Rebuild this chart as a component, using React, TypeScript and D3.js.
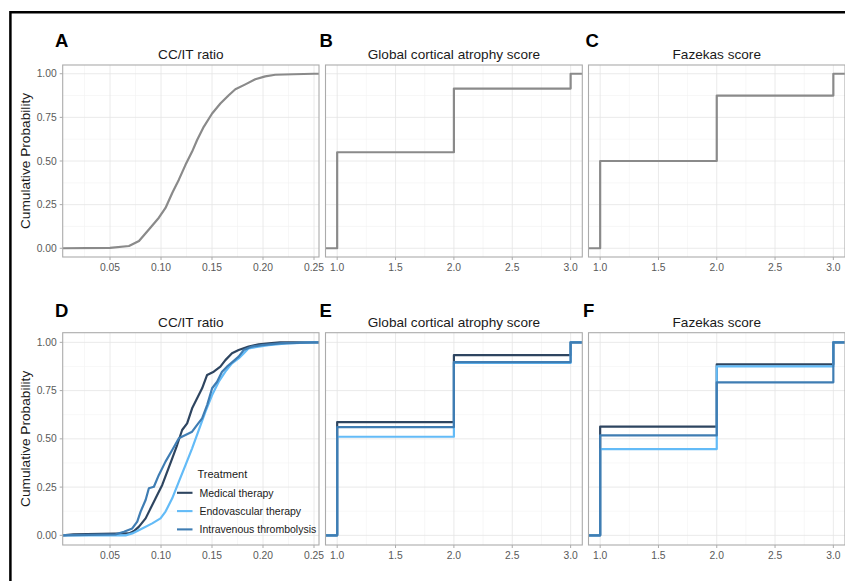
import React from 'react';
import * as d3 from 'd3';

const W = 845;
const H = 581;

// ---- legend / series ----
const treatments = ['Medical therapy', 'Endovascular therapy', 'Intravenous thrombolysis'];
const treatmentColors = ['#2E4560', '#63BBF7', '#3F7DB3'];
const overallColor = '#8A8A8A';

// ---- ticks ----
const ccitTicks = [0.05, 0.1, 0.15, 0.2, 0.25];
const ccitMinor = [0.025, 0.075, 0.125, 0.175, 0.225];
const scoreTicks = [1.0, 1.5, 2.0, 2.5, 3.0];
const scoreMinor = [1.25, 1.75, 2.25, 2.75];
const probTicks = [0, 0.25, 0.5, 0.75, 1];
const probMinor = [0.125, 0.375, 0.625, 0.875];

// ---- CC/IT ratio ECDF ----
const ccitAllX = [0.05, 0.0686, 0.0784, 0.0881, 0.0979, 0.1044, 0.111, 0.1175, 0.124, 0.1305, 0.1354, 0.1419, 0.1501, 0.1582, 0.1664, 0.1729, 0.1827, 0.1924, 0.2022, 0.212, 0.23, 0.25];
const ccitAllY = [0.002, 0.013, 0.042, 0.108, 0.175, 0.231, 0.317, 0.393, 0.478, 0.554, 0.62, 0.696, 0.772, 0.829, 0.877, 0.911, 0.939, 0.968, 0.985, 0.994, 0.997, 1.0];

const ccitMedX = [0.014, 0.0686, 0.0735, 0.0784, 0.0849, 0.0898, 0.0947, 0.1012, 0.1061, 0.111, 0.1158, 0.1207, 0.1256, 0.1305, 0.1354, 0.1403, 0.1452, 0.1517, 0.1582, 0.1631, 0.1696, 0.1761, 0.1859, 0.1957, 0.2055, 0.2169];
const ccitMedY = [0.005, 0.01, 0.022, 0.045, 0.088, 0.14, 0.192, 0.261, 0.33, 0.399, 0.468, 0.546, 0.58, 0.658, 0.71, 0.762, 0.831, 0.848, 0.874, 0.908, 0.943, 0.96, 0.978, 0.99, 0.995, 1.0];

const ccitEndoX = [0.0653, 0.0718, 0.0816, 0.0914, 0.0995, 0.1044, 0.111, 0.1175, 0.124, 0.1305, 0.1371, 0.1436, 0.1501, 0.1566, 0.1631, 0.1696, 0.1761, 0.181, 0.1859, 0.1957, 0.2055, 0.2232, 0.2493];
const ccitEndoY = [0.0, 0.01, 0.036, 0.062, 0.088, 0.123, 0.192, 0.278, 0.364, 0.451, 0.546, 0.641, 0.727, 0.796, 0.848, 0.891, 0.917, 0.943, 0.969, 0.978, 0.986, 0.995, 1.0];

const ccitIvtX = [0.0555, 0.0637, 0.0718, 0.0767, 0.08, 0.0849, 0.0881, 0.093, 0.0979, 0.1044, 0.111, 0.1175, 0.124, 0.1305, 0.1354, 0.1403, 0.1452, 0.1501, 0.155, 0.1598, 0.1647, 0.1696, 0.1761, 0.181, 0.1892, 0.1989, 0.2169, 0.25];
const ccitIvtY = [0.005, 0.019, 0.036, 0.071, 0.123, 0.183, 0.244, 0.252, 0.313, 0.382, 0.442, 0.503, 0.52, 0.537, 0.572, 0.606, 0.675, 0.762, 0.796, 0.848, 0.874, 0.896, 0.926, 0.96, 0.978, 0.986, 0.995, 1.0];

// ---- score ECDFs (levels 1, 2, 3) ----
const scoreLevels = [1, 2, 3];
const gcaAll = [0.55, 0.915, 1.0];
const fazAll = [0.5, 0.875, 1.0];
const gcaMed = [0.587, 0.934, 1.0];
const gcaEndo = [0.511, 0.893, 1.0];
const gcaIvt = [0.561, 0.898, 1.0];
const fazMed = [0.563, 0.886, 1.0];
const fazEndo = [0.447, 0.876, 1.0];
const fazIvt = [0.518, 0.793, 1.0];

type Series = { kind: 'curve' | 'step'; xs: number[]; ys: number[]; color: string };

const ccitDomain: [number, number] = [0.0036, 0.2549];
const scoreDomain: [number, number] = [0.9, 3.1];
const probDomain: [number, number] = [-0.05, 1.05];

const cols = [
  { left: 62.7, right: 319 },
  { left: 325.5, right: 582.3 },
  { left: 588.5, right: 845 },
];
const rows = [
  { top: 65, bottom: 257, labelY: 46.7, titleY: 59 },
  { top: 332.7, bottom: 545, labelY: 316.7, titleY: 327.3 },
];

const FONT = '"Liberation Sans", Arial, Helvetica, sans-serif';

function Panel(props: {
  col: number; row: number; label: string; labelX: number; title: string;
  isCcit: boolean; series: Series[]; showY: boolean;
}) {
  const { col, row, label, labelX, title, isCcit, series, showY } = props;
  const c = cols[col];
  const r = rows[row];
  const x = d3.scaleLinear().domain(isCcit ? ccitDomain : scoreDomain).range([c.left, c.right]);
  const y = d3.scaleLinear().domain(probDomain).range([r.bottom, r.top]);
  const majors = isCcit ? ccitTicks : scoreTicks;
  const minors = isCcit ? ccitMinor : scoreMinor;
  const fmtX = d3.format(isCcit ? '.2f' : '.1f');
  const fmtY = d3.format('.2f');
  const [x0, x1] = x.domain();

  const lineLin = d3.line<[number, number]>().x(d => x(d[0])).y(d => y(d[1])).curve(d3.curveLinear);
  const lineStep = d3.line<[number, number]>().x(d => x(d[0])).y(d => y(d[1])).curve(d3.curveStepAfter);

  const paths = series.map((s, i) => {
    const pts: [number, number][] = [[x0, 0], ...s.xs.map((v, k) => [v, s.ys[k]] as [number, number]), [x1, 1]];
    const gen = s.kind === 'curve' ? lineLin : lineStep;
    return <path key={i} d={gen(pts) || ''} fill="none" stroke={s.color} strokeWidth={2.2} strokeLinejoin="round" />;
  });

  const clipId = `clip-${row}-${col}`;
  return (
    <g>
      <defs>
        <clipPath id={clipId}>
          <rect x={c.left} y={r.top} width={c.right - c.left} height={r.bottom - r.top} />
        </clipPath>
      </defs>
      {minors.map(v => (
        <line key={'mx' + v} x1={x(v)} x2={x(v)} y1={r.top} y2={r.bottom} stroke="#F1F1F1" strokeWidth={0.6} />
      ))}
      {probMinor.map(v => (
        <line key={'my' + v} x1={c.left} x2={c.right} y1={y(v)} y2={y(v)} stroke="#F1F1F1" strokeWidth={0.6} />
      ))}
      {majors.map(v => (
        <line key={'gx' + v} x1={x(v)} x2={x(v)} y1={r.top} y2={r.bottom} stroke="#E4E4E4" strokeWidth={0.8} />
      ))}
      {probTicks.map(v => (
        <line key={'gy' + v} x1={c.left} x2={c.right} y1={y(v)} y2={y(v)} stroke="#E4E4E4" strokeWidth={0.8} />
      ))}
      <g clipPath={`url(#${clipId})`}>{paths}</g>
      <rect x={c.left} y={r.top} width={c.right - c.left} height={r.bottom - r.top} fill="none" stroke="#ABABAB" strokeWidth={1.1} />
      {majors.map(v => (
        <g key={'tx' + v}>
          <line x1={x(v)} x2={x(v)} y1={r.bottom} y2={r.bottom + 3} stroke="#ABABAB" strokeWidth={1} />
          <text x={x(v)} y={r.bottom + 14} textAnchor="middle" fontFamily={FONT} fontSize={10.3} fill="#595959">{fmtX(v)}</text>
        </g>
      ))}
      {showY && probTicks.map(v => (
        <g key={'ty' + v}>
          <line x1={c.left - 3} x2={c.left} y1={y(v)} y2={y(v)} stroke="#ABABAB" strokeWidth={1} />
          <text x={c.left - 6} y={y(v) + 3.6} textAnchor="end" fontFamily={FONT} fontSize={10.3} fill="#595959">{fmtY(v)}</text>
        </g>
      ))}
      {showY && (
        <text transform={`translate(30,${(r.top + r.bottom) / 2}) rotate(-90)`} textAnchor="middle" fontFamily={FONT} fontSize={13.7} fill="#1A1A1A">Cumulative Probability</text>
      )}
      <text x={(c.left + c.right) / 2} y={r.titleY} textAnchor="middle" fontFamily={FONT} fontSize={13.6} fill="#1A1A1A">{title}</text>
      <text x={labelX} y={r.labelY} fontFamily={FONT} fontSize={18.5} fontWeight="bold" fill="#000">{label}</text>
    </g>
  );
}

export default function App() {
  const topCcit: Series[] = [{ kind: 'curve', xs: ccitAllX, ys: ccitAllY, color: overallColor }];
  const topGca: Series[] = [{ kind: 'step', xs: scoreLevels, ys: gcaAll, color: overallColor }];
  const topFaz: Series[] = [{ kind: 'step', xs: scoreLevels, ys: fazAll, color: overallColor }];
  const botCcit: Series[] = [
    { kind: 'curve', xs: ccitMedX, ys: ccitMedY, color: treatmentColors[0] },
    { kind: 'curve', xs: ccitEndoX, ys: ccitEndoY, color: treatmentColors[1] },
    { kind: 'curve', xs: ccitIvtX, ys: ccitIvtY, color: treatmentColors[2] },
  ];
  const botGca: Series[] = [
    { kind: 'step', xs: scoreLevels, ys: gcaMed, color: treatmentColors[0] },
    { kind: 'step', xs: scoreLevels, ys: gcaEndo, color: treatmentColors[1] },
    { kind: 'step', xs: scoreLevels, ys: gcaIvt, color: treatmentColors[2] },
  ];
  const botFaz: Series[] = [
    { kind: 'step', xs: scoreLevels, ys: fazMed, color: treatmentColors[0] },
    { kind: 'step', xs: scoreLevels, ys: fazEndo, color: treatmentColors[1] },
    { kind: 'step', xs: scoreLevels, ys: fazIvt, color: treatmentColors[2] },
  ];

  const legendX = 177;
  const legendY0 = 492.8;
  const legendStep = 18.3;

  return (
    <svg width={W} height={H} viewBox={`0 0 ${W} ${H}`} style={{ position: 'absolute', left: 0, top: 0, background: '#fff' }}>
      <rect x={0} y={0} width={W} height={H} fill="#fff" />
      <Panel col={0} row={0} label="A" labelX={55} title="CC/IT ratio" isCcit series={topCcit} showY />
      <Panel col={1} row={0} label="B" labelX={319.5} title="Global cortical atrophy score" isCcit={false} series={topGca} showY={false} />
      <Panel col={2} row={0} label="C" labelX={585.5} title="Fazekas score" isCcit={false} series={topFaz} showY={false} />
      <Panel col={0} row={1} label="D" labelX={55} title="CC/IT ratio" isCcit series={botCcit} showY />
      <Panel col={1} row={1} label="E" labelX={319.5} title="Global cortical atrophy score" isCcit={false} series={botGca} showY={false} />
      <Panel col={2} row={1} label="F" labelX={583} title="Fazekas score" isCcit={false} series={botFaz} showY={false} />
      <g>
        <text x={197.5} y={478} fontFamily={FONT} fontSize={11} fill="#1A1A1A">Treatment</text>
        {treatments.map((t, i) => (
          <g key={t}>
            <line x1={legendX} x2={legendX + 15.5} y1={legendY0 + i * legendStep} y2={legendY0 + i * legendStep} stroke={treatmentColors[i]} strokeWidth={2.1} />
            <text x={199.5} y={legendY0 + i * legendStep + 3.7} fontFamily={FONT} fontSize={10.5} fill="#1A1A1A">{t}</text>
          </g>
        ))}
      </g>
      <path d={`M10.4,${H + 5} L10.4,12.2 L${W + 5},12.2`} fill="none" stroke="#000" strokeWidth={2.5} />
    </svg>
  );
}
